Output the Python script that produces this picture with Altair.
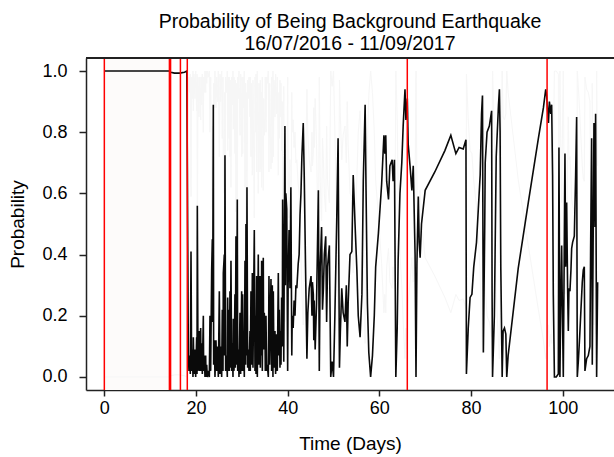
import altair as alt
import pandas as pd

# ---- data ----
days = [
    0.0, 14.2, 14.5, 15.3, 16.4, 17.5, 18.0,
    18.33, 18.47, 18.62, 18.76, 18.91, 19.05, 19.20, 19.34, 19.42, 19.56,
    19.78, 19.93, 20.14, 20.22, 20.29, 20.44, 20.65, 20.80, 21.02, 21.09,
    21.24, 21.38, 21.60, 21.67, 21.82, 21.96, 22.11, 22.18, 22.33, 22.47,
    22.69, 22.91, 23.05, 23.20, 23.42, 23.56, 23.63, 23.78, 23.85, 24.00,
    24.14, 24.36, 24.51, 24.72, 24.87, 25.09, 25.23, 25.38, 25.60, 25.74,
    25.89, 25.96, 26.18, 26.25, 26.32, 26.47, 26.69, 26.83, 26.91, 27.05,
    27.20, 27.27, 27.41, 27.49, 27.63, 27.78, 27.92, 28.07, 28.14, 28.29,
    28.50, 28.58, 28.72, 28.87, 29.01, 29.09, 29.23, 29.38, 29.60, 29.74,
    29.96, 30.03, 30.18, 30.32, 30.40, 30.54, 30.69, 30.83, 30.90, 31.05,
    31.12, 31.27, 31.41, 31.56, 31.78, 31.85, 31.99, 32.14, 32.29, 32.43,
    32.72, 32.87, 33.01, 33.09, 33.23, 33.38, 33.59, 33.74, 33.96, 34.03,
    34.18, 34.25, 34.32, 34.47, 34.68, 34.76, 34.90, 35.05, 35.12, 35.27,
    35.41, 35.56, 35.78, 35.92, 36.07, 36.36, 36.50, 36.65, 36.79, 36.87,
    37.01, 37.23, 37.37, 37.59, 37.74, 37.96, 38.10, 38.17, 38.32, 38.46,
    38.54, 38.68, 38.83, 38.90, 39.05, 39.15, 39.40, 39.50, 39.60, 39.80,
    40.00, 40.10, 40.30, 40.50, 40.70, 40.90, 41.00, 41.20, 41.40, 41.60,
    41.80, 42.00, 42.30, 42.50, 42.70, 42.90, 43.10, 43.40, 43.60, 43.90,
    44.20, 44.40, 44.70, 45.10, 45.30, 45.40, 45.60, 45.70, 45.80, 46.00,
    46.30, 46.70, 46.90, 47.10, 47.40, 47.60, 47.80, 48.00, 48.30, 48.50,
    48.70, 49.10, 49.40, 49.70, 50.00, 50.30, 50.70, 51.00, 51.30, 51.50,
    51.80, 52.10, 52.50, 52.80, 53.00, 53.20, 53.60, 54.00, 54.30, 54.70,
    55.10, 55.40, 55.80, 56.20, 56.50, 56.90, 57.10, 57.40, 57.70, 58.10,
    58.50, 58.90, 59.20, 59.80, 60.50, 61.00, 61.20, 61.40, 61.60, 62.00,
    62.30, 62.80, 63.00, 63.30, 63.60, 63.90, 64.10, 64.50, 64.90, 65.20,
    65.60, 65.80, 66.10, 66.30, 66.70, 67.10, 67.40, 67.80, 68.00, 68.20,
    68.50, 68.70, 68.90, 69.20, 70.00, 72.10, 74.30, 75.60, 76.70, 77.40,
    78.30, 78.90, 79.00, 79.40, 79.80, 80.20, 80.60, 81.20, 81.60, 82.00,
    82.30, 82.50, 82.70, 83.00, 83.10, 83.50, 84.00, 84.50, 84.60, 84.70,
    85.10, 85.50, 86.00, 86.20, 86.35, 86.50, 86.80, 87.00, 87.30, 87.60,
    87.80, 88.10, 90.30, 92.50, 94.70, 95.80, 96.30, 96.50, 96.90, 97.10,
    97.40, 97.60, 97.80, 97.96, 98.20, 98.60, 99.05, 99.19, 99.40, 99.56,
    99.78, 99.92, 100.14, 100.50, 100.65, 100.87, 101.08, 101.23, 101.37, 101.59,
    101.81, 101.96, 102.17, 102.54, 102.83, 103.05, 103.19, 103.41, 103.70, 103.99,
    104.28, 104.50, 104.72, 104.86, 105.23, 105.59, 105.95, 106.10, 106.32, 106.46,
    106.83, 107.05, 107.19, 107.41, 107.63,
]
prob = [
    1.0, 1.0, 0.996, 0.993, 0.993, 0.996, 1.0,
    0.07, 0.02, 0.07, 0.01, 0.41, 0.02, 0.09, 0.00, 0.13, 0.01,
    0.09, 0.00, 0.13, 0.01, 0.56, 0.02, 0.15, 0.02, 0.16, 0.02,
    0.11, 0.01, 0.20, 0.02, 0.07, 0.00, 0.07, 0.00, 0.04, 0.00,
    0.02, 0.00, 0.20, 0.02, 0.35, 0.45, 0.18, 0.89, 0.04, 0.12,
    0.00, 0.12, 0.02, 0.10, 0.00, 0.28, 0.01, 0.10, 0.00, 0.22,
    0.02, 0.34, 0.40, 0.07, 0.725, 0.02, 0.07, 0.00, 0.26, 0.02,
    0.22, 0.02, 0.28, 0.03, 0.38, 0.02, 0.11, 0.00, 0.19, 0.02,
    0.27, 0.03, 0.46, 0.04, 0.58, 0.02, 0.09, 0.00, 0.21, 0.01,
    0.28, 0.02, 0.27, 0.02, 0.12, 0.00, 0.38, 0.04, 0.50, 0.07,
    0.62, 0.03, 0.09, 0.02, 0.15, 0.02, 0.28, 0.04, 0.34, 0.03,
    0.48, 0.02, 0.20, 0.01, 0.33, 0.00, 0.40, 0.04, 0.33, 0.03,
    0.32, 0.07, 0.38, 0.02, 0.39, 0.09, 0.21, 0.14, 0.02, 0.20,
    0.02, 0.04, 0.00, 0.33, 0.04, 0.32, 0.02, 0.30, 0.00, 0.28,
    0.03, 0.15, 0.01, 0.14, 0.02, 0.34, 0.07, 0.22, 0.03, 0.15,
    0.04, 0.26, 0.10, 0.58, 0.28, 0.05, 0.82, 0.30, 0.60, 0.55,
    0.02, 0.30, 0.48, 0.29, 0.62, 0.07, 0.20, 0.16, 0.25, 0.20,
    0.30, 0.29, 0.37, 0.40, 0.53, 0.60, 0.72, 0.83, 0.67, 0.36,
    0.06, 0.21, 0.29, 0.33, 0.20, 0.31, 0.27, 0.12, 0.25, 0.09,
    0.24, 0.61, 0.02, 0.36, 0.49, 0.22, 0.29, 0.40, 0.46, 0.18,
    0.36, 0.43, 0.00, 0.05, 0.00, 0.20, 0.51, 0.78, 0.03, 0.15,
    0.29, 0.21, 0.18, 0.30, 0.10, 0.24, 0.40, 0.41, 0.66, 0.50,
    0.35, 0.20, 0.13, 0.27, 0.64, 0.89, 0.61, 0.24, 0.08, 0.00,
    0.07, 0.20, 0.36, 0.47, 0.63, 0.79, 0.73, 0.79, 0.64, 0.58,
    0.69, 0.71, 0.64, 0.71, 0.00, 0.16, 0.38, 0.60, 0.70, 0.82,
    0.94, 0.84, 0.91, 0.76, 0.69, 0.61, 0.69, 0.40, 0.00, 0.37,
    0.59, 0.44, 0.39, 0.50, 0.61, 0.67, 0.74, 0.79, 0.73, 0.75,
    0.745, 0.775, 0.01, 0.16, 0.26, 0.27, 0.36, 0.44, 0.55, 0.66,
    0.86, 0.92, 0.08, 0.50, 0.70, 0.80, 0.82, 0.87, 0.28, 0.00,
    0.20, 0.72, 0.89, 0.94, 0.80, 0.36, 0.00, 0.15, 0.16, 0.14,
    0.00, 0.07, 0.355, 0.57, 0.78, 0.88, 0.94, 0.92, 0.83, 0.90,
    0.86, 0.89, 0.66, 0.27, 0.00, 0.00, 0.01, 0.75, 0.00, 0.22,
    0.43, 0.24, 0.00, 0.73, 0.36, 0.57, 0.29, 0.15, 0.29, 0.28,
    0.35, 0.42, 0.44, 0.46, 0.66, 0.85, 0.00, 0.05, 0.13, 0.22,
    0.31, 0.35, 0.36, 0.02, 0.06, 0.07, 0.10, 0.42, 0.78, 0.04,
    0.83, 0.49, 0.86, 0.00, 0.31,
]
event_days = [0.0, 14.2, 14.45, 16.6, 18.1, 66.1, 96.6]
shade_start = [0.0]
shade_end = [14.2]
x_ticks = [0, 20, 40, 60, 80, 100]
y_ticks = [0.0, 0.2, 0.4, 0.6, 0.8, 1.0]
title_lines = ["Probability of Being Background Earthquake", "16/07/2016 - 11/09/2017"]

series = pd.DataFrame({"day": days, "prob": prob})
events = pd.DataFrame({"day": event_days})
shade = pd.DataFrame({"day": shade_start, "day2": shade_end})

W, H = 528, 332
FONT = "Liberation Sans"

xscale = alt.Scale(domain=[-4.0, 111.2], nice=False, zero=False)
yscale = alt.Scale(domain=[-0.0425, 1.0425], nice=False, zero=False)

xaxis = alt.Axis(values=x_ticks, format="d", grid=False,
                 labelPadding=3, tickSize=6, titlePadding=17)
yaxis = alt.Axis(values=y_ticks, format=".1f", grid=False,
                 labelPadding=12, tickSize=7, titlePadding=14)

X_TITLE = "Time (Days)"
Y_TITLE = "Probability"

main = alt.Chart(series).mark_line(color="#0a0a0a", strokeWidth=1.6).encode(
    x=alt.X("day:Q", scale=xscale, axis=xaxis, title=X_TITLE),
    y=alt.Y("prob:Q", scale=yscale, axis=yaxis, title=Y_TITLE),
)

shade_layer = alt.Chart(shade).mark_rect(color="#fdfbfa").encode(
    x=alt.X("day:Q", scale=xscale, axis=xaxis, title=X_TITLE),
    x2=alt.X2("day2:Q", title=X_TITLE),
    y=alt.value(0), y2=alt.value(H),
)

faint = alt.Chart(series).transform_calculate(q="1 - datum.prob").mark_line(
    color="#f6f6f6", strokeWidth=1
).encode(
    x=alt.X("day:Q", scale=xscale, axis=xaxis, title=X_TITLE),
    y=alt.Y("q:Q", scale=yscale, axis=yaxis, title=Y_TITLE),
)

red = alt.Chart(events).mark_rule(color="#ff0000", strokeWidth=1.5).encode(
    x=alt.X("day:Q", scale=xscale, axis=xaxis, title=X_TITLE),
)

top = alt.Chart(events).mark_rule(color="#222222", strokeWidth=1.5).encode(
    y=alt.value(0), x=alt.value(0), x2=alt.value(W),
)

chart = alt.layer(shade_layer, faint, main, red, top).properties(
    width=W, height=H,
    title=alt.TitleParams(text=title_lines, fontSize=19.5, fontWeight="normal",
                          font=FONT, color="#000000", anchor="middle",
                          lineHeight=22, offset=3),
    autosize=alt.AutoSizeParams(type="none"),
    padding={"left": 86, "top": 58, "right": 0, "bottom": 67},
).configure_view(stroke=None).configure_axis(
    labelFont=FONT, titleFont=FONT, labelFontSize=18, titleFontSize=19,
    labelColor="#000000", titleColor="#000000", titleFontWeight="normal",
    domainColor="#222222", domainWidth=1.5, tickColor="#222222", tickWidth=1.5,
)

chart.save("out.html", embed_options={"renderer": "svg", "actions": False})
